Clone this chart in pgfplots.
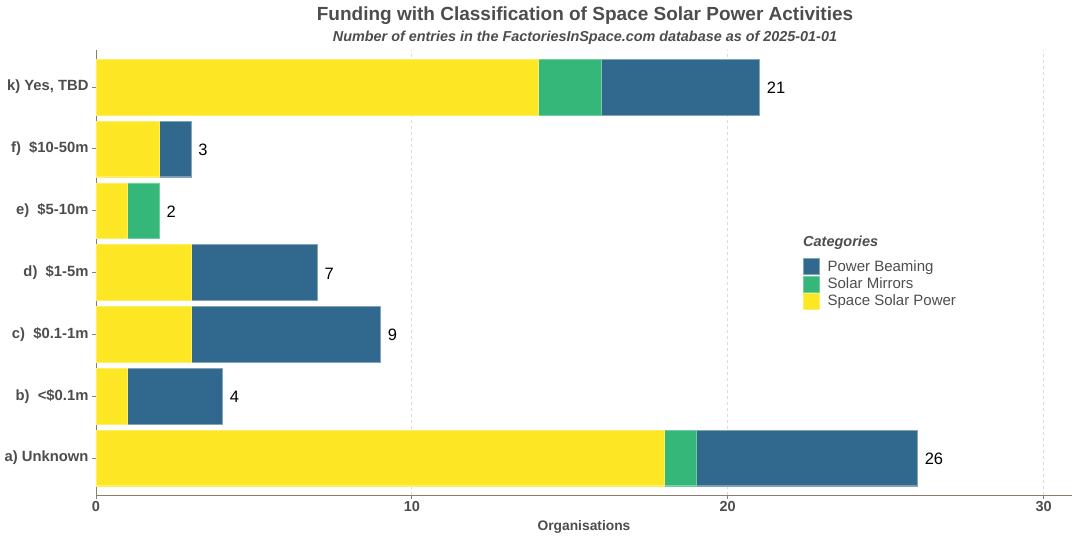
\documentclass[border=0pt]{standalone}
\usepackage{pgfplots}
\pgfplotsset{compat=1.18}
\usepackage{pgfplotstable}
\usepackage{fontspec}
\setmainfont{Liberation Sans}

\definecolor{pbeam}{HTML}{31688E}
\definecolor{smirror}{HTML}{35B779}
\definecolor{ssolar}{HTML}{FDE725}
\definecolor{txtgray}{HTML}{4D4D4D}
\definecolor{axcol}{HTML}{8B7D6B}
\definecolor{gridcol}{HTML}{E6D9CC}

% y: 1 = a) Unknown ... 7 = k) Yes, TBD
\pgfplotstableread{
y ssp sm pb total
1 18 1 7 26
2 1  0 3 4
3 3  0 6 9
4 3  0 4 7
5 1  1 0 2
6 2  0 1 3
7 14 2 5 21
}\funding

\pgfplotsset{
  frame/.style={
    at={(96pt,45pt)}, anchor=south west,
    width=976pt, height=445pt, scale only axis,
    xmin=0, xmax=30.9, ymin=0.4, ymax=7.6,
  },
}

\begin{document}
\begin{tikzpicture}[x=1pt,y=1pt]
\useasboundingbox (0,0) rectangle (1080,540);
\begin{axis}[
  frame,
  xbar stacked, bar width=0.9,
  xtick={0,10,20,30},
  ytick={1,...,7},
  yticklabels={a) Unknown, b)\ \ <\$0.1m, c)\ \ \$0.1-1m, d)\ \ \$1-5m, e)\ \ \$5-10m, f)\ \ \$10-50m, {k) Yes, TBD}},
  axis x line*=bottom, axis y line*=left,
  axis line style={axcol, line width=0.8pt},
  tick style={axcol, line width=0.8pt},
  tick align=outside, major tick length=4pt,
  xmajorgrids, grid style={gridcol, dashed, line width=0.9pt},
  yticklabel style={font=\fontsize{14.8}{16}\selectfont\bfseries, text=txtgray, xshift=0pt},
  xticklabel style={font=\fontsize{14.5}{15}\selectfont\bfseries, text=txtgray, yshift=1pt},
  /pgf/number format/assume math mode=true,
  xlabel={Organisations},
  xlabel style={font=\fontsize{13.8}{14}\selectfont\bfseries, text=txtgray, at={(axis description cs:0.5,0)}, anchor=north, yshift=-22pt},
  every axis plot/.append style={line width=0.4pt},
  legend style={draw=none, fill=none, at={(704pt,239pt)}, anchor=north west,
    font=\fontsize{15}{16}\selectfont, text=txtgray, row sep=1pt,
    nodes={inner sep=1pt},
    /tikz/every odd column/.append style={column sep=7pt}},
  legend cell align=left,
  reverse legend,
  legend image code/.code={\fill[#1] (0pt,-8pt) rectangle (16pt,8pt);},
]
\addplot[fill=ssolar, draw=ssolar!70!white] table[x=ssp, y=y] {\funding};
\addlegendentry{Space Solar Power}
\addplot[fill=smirror, draw=smirror!70!white] table[x=sm, y=y] {\funding};
\addlegendentry{Solar Mirrors}
\addplot[fill=pbeam, draw=pbeam!60!white] table[x=pb, y=y] {\funding};
\addlegendentry{Power Beaming}
\end{axis}
% totals at the end of each bar
\begin{axis}[frame, hide axis]
\addplot[draw=none, mark=none,
  nodes near coords, point meta=explicit,
  nodes near coords style={anchor=west, xshift=4pt, yshift=-1pt, text=black, font=\fontsize{16.5}{17}\selectfont},
  /pgf/number format/assume math mode=true]
  table[x=total, y=y, meta=total] {\funding};
\end{axis}
\node[font=\fontsize{19}{20}\selectfont\bfseries, text=txtgray] at (585,524) {Funding with Classification of Space Solar Power Activities};
\node[font=\fontsize{14.4}{15}\selectfont\bfseries\itshape, text=txtgray] at (585,502.5) {Number of entries in the FactoriesInSpace.com database as of 2025-01-01};
\node[font=\fontsize{14.5}{15}\selectfont\bfseries\itshape, text=txtgray, anchor=west, inner sep=0pt] at (803,297) {Categories};
\end{tikzpicture}
\end{document}
